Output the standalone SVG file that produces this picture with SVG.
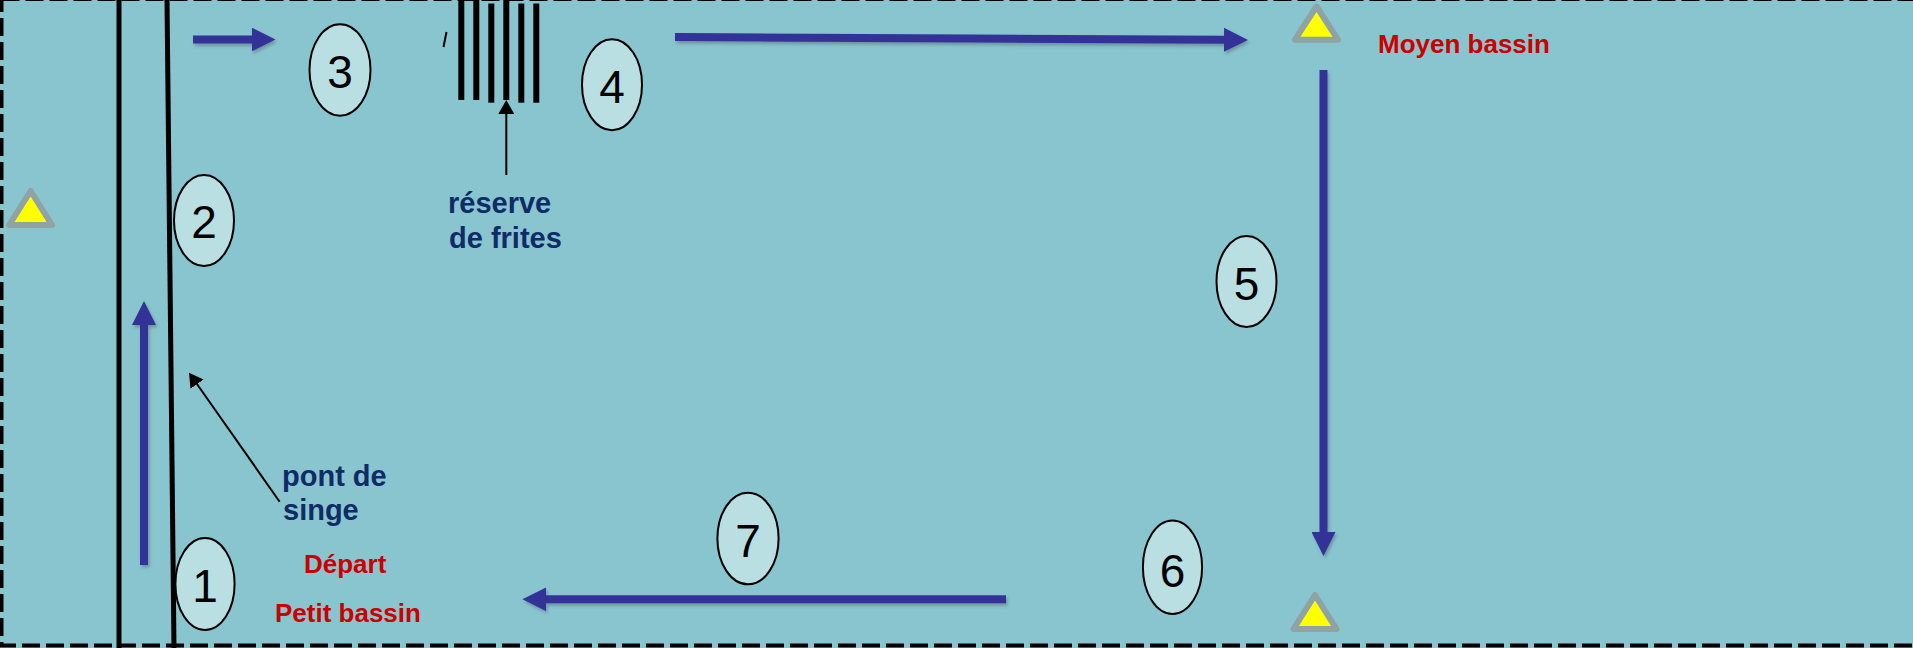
<svg xmlns="http://www.w3.org/2000/svg" width="1913" height="648" viewBox="0 0 1913 648">
<defs>
<style>
.ell{fill:#B9DFE3;stroke:#000;stroke-width:2}
.num{font-family:"Liberation Sans",Arial,sans-serif;font-size:46px;fill:#000;text-anchor:middle}
.lbl{font-family:"Liberation Sans",Arial,sans-serif;font-weight:bold;font-size:29px;fill:#0F2B68}
.red{font-family:"Liberation Sans",Arial,sans-serif;font-weight:bold;font-size:26px;fill:#CC0000}
.blue{stroke:#333399;stroke-width:8;fill:none;marker-end:url(#bh)}
.blk{stroke:#000;stroke-width:2;fill:none;marker-end:url(#kh)}
.bar{stroke:#000;stroke-width:6}
.tri{fill:#FFFF00;stroke:#8FA2A4;stroke-width:6;stroke-linejoin:round}
</style>
<marker id="bh" markerUnits="userSpaceOnUse" markerWidth="24" markerHeight="24" refX="2" refY="12" orient="auto">
<path d="M0,0 L24,12 L0,24 Z" fill="#333399"/>
</marker>
<marker id="kh" markerUnits="userSpaceOnUse" markerWidth="14" markerHeight="16" refX="2" refY="8" orient="auto">
<path d="M0,0 L14,8 L0,16 Z" fill="#000"/>
</marker>
<filter id="sh" filterUnits="userSpaceOnUse" x="0" y="0" width="1913" height="648">
<feDropShadow dx="1.5" dy="2.5" stdDeviation="1.5" flood-color="#4A5A66" flood-opacity="0.45"/>
</filter>
</defs>

<rect x="0" y="0" width="1913" height="648" fill="#89C5CE"/>
<rect id="border" x="1.5" y="-1" width="2000" height="646.5" fill="none" stroke="#000" stroke-width="4" stroke-dasharray="18 6"/>

<g id="lanes">
<line x1="119" y1="0" x2="119" y2="648" stroke="#000" stroke-width="5"/>
<line x1="167" y1="0" x2="174" y2="648" stroke="#000" stroke-width="5"/>
</g>

<g id="frites">
<line class="bar" x1="461.3" y1="0" x2="461.3" y2="100"/>
<line class="bar" x1="476.3" y1="0" x2="476.3" y2="100"/>
<line class="bar" x1="491.3" y1="3.5" x2="491.3" y2="102.7"/>
<line class="bar" x1="506.3" y1="0" x2="506.3" y2="100"/>
<line class="bar" x1="521.3" y1="3.5" x2="521.3" y2="102.7"/>
<line class="bar" x1="536.3" y1="3.5" x2="536.3" y2="102.7"/>
<line x1="446.5" y1="32" x2="443.5" y2="47" stroke="#000" stroke-width="2"/>
</g>

<g id="markers">
<path class="tri" d="M30.6,191 L52,225 L9.2,225 Z"/>
<path class="tri" d="M1316.5,6.5 L1338,39.7 L1295,39.7 Z"/>
<path class="tri" d="M1315,595 L1336.5,629 L1293.5,629 Z"/>
</g>

<g id="connectors">
<g filter="url(#sh)">
<line class="blue" x1="144" y1="565" x2="144" y2="323"/>
<line class="blue" x1="193" y1="39.5" x2="253.5" y2="39.5"/>
<line class="blue" x1="675" y1="37" x2="1226" y2="39.8"/>
<line class="blue" x1="1323.5" y1="70" x2="1323.5" y2="534"/>
<line class="blue" x1="1006" y1="599.3" x2="544.4" y2="599.3"/>
</g>
<line class="blk" x1="506.3" y1="175" x2="506.3" y2="112"/>
<line class="blk" x1="279.6" y1="501.7" x2="195.9" y2="382.5"/>
</g>

<g id="n1"><ellipse class="ell" cx="205" cy="584" rx="29.6" ry="46"/><text class="num" x="205" y="602">1</text></g>
<g id="n2"><ellipse class="ell" cx="204" cy="220.5" rx="30" ry="45.5"/><text class="num" x="204" y="238">2</text></g>
<g id="n3"><ellipse class="ell" cx="340" cy="70" rx="30.5" ry="45.7"/><text class="num" x="340" y="88">3</text></g>
<g id="n4"><ellipse class="ell" cx="612" cy="84.7" rx="30" ry="45.5"/><text class="num" x="612" y="103">4</text></g>
<g id="n5"><ellipse class="ell" cx="1246.5" cy="281.5" rx="30" ry="45.5"/><text class="num" x="1246.5" y="300">5</text></g>
<g id="n6"><ellipse class="ell" cx="1172.5" cy="567.3" rx="29.6" ry="46.7"/><text class="num" x="1172.5" y="586.7">6</text></g>
<g id="n7"><ellipse class="ell" cx="748" cy="538.5" rx="30.6" ry="45.8"/><text class="num" x="748" y="557">7</text></g>

<g id="labels">
<text class="lbl" x="448" y="213">réserve</text>
<text class="lbl" x="449" y="248">de frites</text>
<text class="lbl" x="282" y="486">pont de</text>
<text class="lbl" x="283" y="520">singe</text>
<text class="red" x="304" y="573">Départ</text>
<text class="red" x="275" y="621.5">Petit bassin</text>
<text class="red" x="1378" y="52.7">Moyen bassin</text>
</g>
</svg>
